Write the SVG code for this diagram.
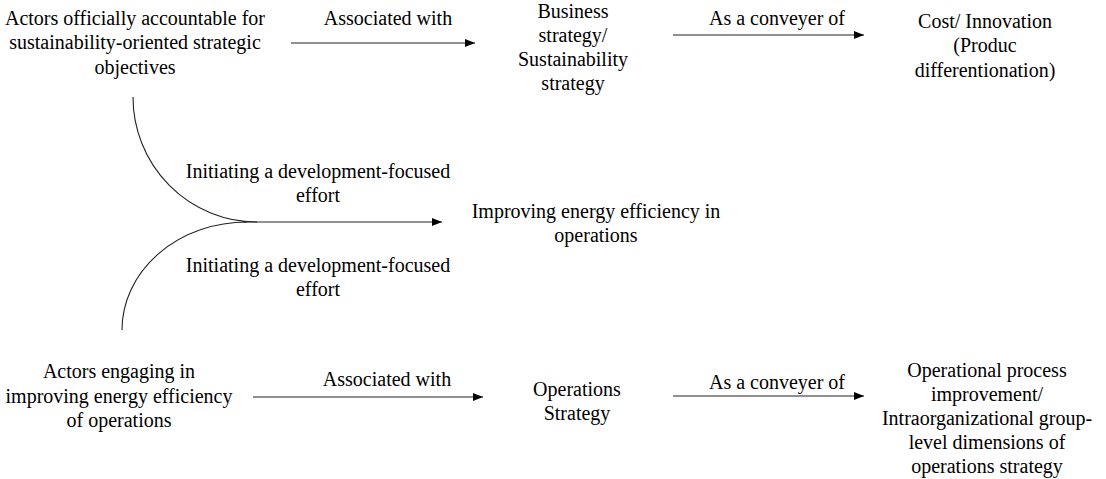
<svg xmlns="http://www.w3.org/2000/svg" width="1106" height="479" viewBox="0 0 1106 479">
<defs>
<style>
text{font-family:'Liberation Serif','Times New Roman',serif;font-size:20px;fill:#000;text-anchor:middle}
.c{fill:none;stroke:#222;stroke-width:1.1}
</style>
<marker id="ah" viewBox="0 0 10 10" refX="10" refY="5" markerWidth="10" markerHeight="10" markerUnits="userSpaceOnUse" orient="auto">
<path d="M0,1 L10,5 L0,9 Z" fill="#000"/>
</marker>
</defs>
<rect width="1106" height="479" fill="#fff"/>
<g id="connectors">
<line class="c" x1="291" y1="43" x2="475" y2="43" marker-end="url(#ah)"/>
<line class="c" x1="673" y1="35" x2="864" y2="35" marker-end="url(#ah)"/>
<path class="c" d="M133,97 A124,125 0 0 0 257,222"/>
<path class="c" d="M122,330 A125,108 0 0 1 247,222"/>
<line class="c" x1="243" y1="222" x2="442" y2="222" marker-end="url(#ah)"/>
<line class="c" x1="253" y1="397" x2="483" y2="397" marker-end="url(#ah)"/>
<line class="c" x1="673" y1="396" x2="864" y2="396" marker-end="url(#ah)"/>
<text x="388" y="25">Associated with</text>
<text x="777" y="25">As a conveyer of</text>
<text x="318" y="178">Initiating a development-focused</text>
<text x="318" y="202">effort</text>
<text x="318" y="272">Initiating a development-focused</text>
<text x="318" y="296">effort</text>
<text x="387" y="386">Associated with</text>
<text x="777" y="389">As a conveyer of</text>
</g>
<g id="actors-accountable">
<text x="135" y="25">Actors officially accountable for</text>
<text x="135" y="49">sustainability-oriented strategic</text>
<text x="135" y="74">objectives</text>
</g>
<g id="business-strategy">
<text x="573" y="18">Business</text>
<text x="573" y="42">strategy/</text>
<text x="573" y="66">Sustainability</text>
<text x="573" y="90">strategy</text>
</g>
<g id="cost-innovation">
<text x="985" y="28">Cost/ Innovation</text>
<text x="985" y="52">(Produc</text>
<text x="985" y="77">differentionation)</text>
</g>
<g id="improving-energy">
<text x="596" y="218">Improving energy efficiency in</text>
<text x="596" y="242">operations</text>
</g>
<g id="actors-engaging">
<text x="119" y="378">Actors engaging in</text>
<text x="119" y="403">improving energy efficiency</text>
<text x="119" y="427">of operations</text>
</g>
<g id="operations-strategy">
<text x="577" y="396">Operations</text>
<text x="577" y="420">Strategy</text>
</g>
<g id="operational-process">
<text x="987" y="377">Operational process</text>
<text x="987" y="401">improvement/</text>
<text x="987" y="425">Intraorganizational group-</text>
<text x="987" y="449">level dimensions of</text>
<text x="987" y="473">operations strategy</text>
</g>
</svg>
